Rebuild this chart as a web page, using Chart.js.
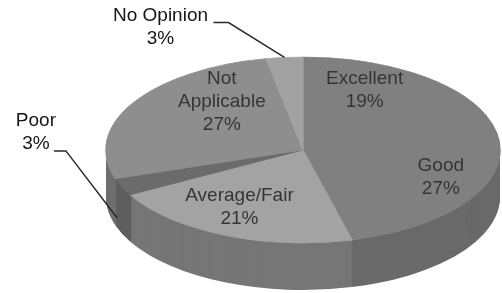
<!DOCTYPE html>
<html>
<head>
<meta charset="utf-8">
<script src="https://cdn.jsdelivr.net/npm/chart.js@4"></script>
<style>
  html, body { margin: 0; padding: 0; background: #fff; }
  canvas { display: block; }
</style>
</head>
<body>
<canvas id="pieChart" width="502" height="293"></canvas>
<script>
// data
const categories = ['Excellent', 'Good', 'Average/Fair', 'Poor', 'Not Applicable', 'No Opinion'];
const shares = [19, 27, 21, 3, 27, 3];
const labelLines = [['Excellent'], ['Good'], ['Average/Fair'], ['Poor'], ['Not', 'Applicable'], ['No Opinion']];

// look
const topColors = ['#808080', '#808080', '#a3a3a3', '#6b6b6b', '#8e8e8e', '#a2a2a2'];
const sideColors = ['#6a6a6a', '#6a6a6a', '#767676', '#5e5e5e', '#6f6f6f', '#7c7c7c'];

// where the tilted pie sits on the page
const ell = { cx: 303, cy: 150, rx: 197, ry: 93, depth: 47 };

// label placement: anchor at a fraction of the radius, then a nudge
const labelFrac = 0.62;
const labelNudge = [[-7, -12], [29, 1], [-15, 4], [-155, -41], [24, -19], [-131, -65]];
const outside = [false, false, false, true, false, true];
// leader lines for outside labels: start / elbow relative to label centre, drop below the rim
const leaders = {
  3: { start: [18, 19], elbow: [30, 19], drop: 31, shift: -5 },
  5: { start: [53, -5], elbow: [68, -5], drop: 0, shift: 0 }
};

function mapper(chart) {
  const a = chart.getDatasetMeta(0).data[0];
  const sx = ell.rx / a.outerRadius, sy = ell.ry / a.outerRadius;
  return {
    sx, sy,
    pt: (px, py) => [ell.cx + (px - a.x) * sx, ell.cy + (py - a.y) * sy]
  };
}

const pie3d = {
  id: 'pie3d',
  beforeDatasetsDraw(chart) {
    const ctx = chart.ctx;
    const arcs = chart.getDatasetMeta(0).data;
    const { x, y, outerRadius: r } = arcs[0];
    const sx = ell.rx / r, sy = ell.ry / r;
    ctx.save();
    ctx.translate(ell.cx, ell.cy);
    ctx.scale(sx, sy);
    ctx.translate(-x, -y);
    // side wall: stack the slices downwards
    for (let d = ell.depth; d >= 1; d--) {
      arcs.forEach((a, i) => {
        const oy = a.y + d / sy;
        ctx.beginPath();
        ctx.moveTo(a.x, oy);
        ctx.arc(a.x, oy, a.outerRadius, a.startAngle, a.endAngle);
        ctx.closePath();
        ctx.fillStyle = sideColors[i];
        ctx.fill();
      });
    }
  },
  afterDatasetsDraw(chart) {
    const ctx = chart.ctx;
    ctx.restore();
    const m = mapper(chart);
    const arcs = chart.getDatasetMeta(0).data;
    ctx.save();
    ctx.font = '19px "Liberation Sans", Arial, sans-serif';
    ctx.textAlign = 'center';
    ctx.textBaseline = 'middle';
    const lh = 23;
    arcs.forEach((a, i) => {
      const mid = (a.startAngle + a.endAngle) / 2;
      const [ax, ay] = m.pt(a.x + Math.cos(mid) * a.outerRadius * labelFrac,
                            a.y + Math.sin(mid) * a.outerRadius * labelFrac);
      const cx = ax + labelNudge[i][0], cy = ay + labelNudge[i][1];
      const lines = labelLines[i].concat([shares[i] + '%']);
      const top = cy - (lines.length - 1) * lh / 2;
      ctx.fillStyle = outside[i] ? '#151515' : '#353535';
      lines.forEach((t, k) => ctx.fillText(t, cx, top + k * lh));
      const ld = leaders[i];
      if (ld) {
        const [rx, ry] = m.pt(a.x + Math.cos(mid) * a.outerRadius, a.y + Math.sin(mid) * a.outerRadius);
        ctx.beginPath();
        ctx.moveTo(cx + ld.start[0], cy + ld.start[1]);
        ctx.lineTo(cx + ld.elbow[0], cy + ld.elbow[1]);
        ctx.lineTo(rx + ld.shift, ry + ld.drop);
        ctx.strokeStyle = '#2a2a2a';
        ctx.lineWidth = 1.5;
        ctx.stroke();
      }
    });
    ctx.restore();
  }
};

new Chart(document.getElementById('pieChart'), {
  type: 'pie',
  data: {
    labels: categories,
    datasets: [{
      data: shares,
      backgroundColor: topColors,
      borderColor: topColors,
      borderWidth: 1,
      clip: false
    }]
  },
  options: {
    responsive: false,
    animation: false,
    events: [],
    layout: { padding: 0 },
    plugins: {
      legend: { display: false },
      tooltip: { enabled: false }
    }
  },
  plugins: [pie3d]
});
</script>
</body>
</html>
